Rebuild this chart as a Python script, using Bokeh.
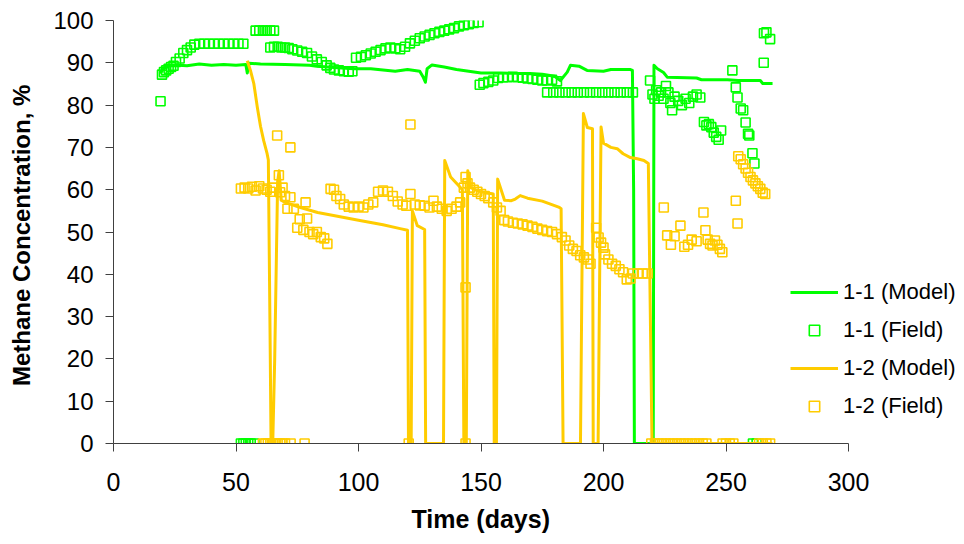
from bokeh.plotting import figure
from bokeh.models import FixedTicker, Legend, LegendItem, Range1d, Title
from bokeh.embed import file_html
from bokeh.resources import INLINE

# ---------------- data ----------------
# 1-1 (Model)
m11_day = [19, 20.5, 22, 25, 30, 35, 40, 45, 50, 54, 54.6, 55.3, 60, 70, 80, 83,
           90, 98, 105, 110, 115, 120, 125, 126.5, 127.3, 128, 130, 135, 140, 145,
           150, 158, 165, 170, 175, 180, 182.4, 185.2, 186.5, 190, 193.3, 200,
           203, 211, 211.8, 212.3, 212.6, 220.3, 220.6, 222, 224.5, 226, 230, 238,
           240, 250.6, 255, 264, 265, 269]
m11_val = [87.5, 88.6, 89.2, 89.5, 89.3, 89.7, 89.4, 89.6, 89.4, 89.6, 87.6, 89.9, 89.7, 89.6, 89.4, 89.2,
           88.9, 88.6, 88.6, 88.3, 88.0, 88.4, 88.0, 86.5, 85.4, 88.6, 89.5, 89.0, 88.4, 88.0,
           87.6, 87.6, 87.5, 87.5, 87.3, 86.8, 85.8, 87.8, 89.4, 89.2, 88.2, 88.0,
           88.4, 88.4, 88.2, 60, 0, 0, 89.4, 88.6, 87.7, 86.6, 86.5, 86.4,
           86.0, 86.0, 85.8, 85.8, 85.1, 85.1]

# 1-1 (Field)
f11_day = [19.2, 19.8, 20.6, 21.5, 22.5, 23.5, 24.5, 25.5, 27, 28.5, 30, 31.5, 33, 35, 37, 39, 41,
           43, 45, 47, 49, 51, 53,
           52, 53, 54, 55, 56, 57.5,
           58, 59.5, 61, 62.5, 64, 65.5,
           64, 65.5, 67, 68.5, 70, 71.5, 73, 75, 77, 79, 81, 83, 85, 87, 88.5, 90, 92, 94,
           96, 97.5, 99, 101, 103, 105, 107, 109, 111, 113, 115, 117, 119, 121, 123, 125,
           127, 129, 131, 133, 135, 137, 139, 141, 143, 145, 147, 149,
           149.5, 151, 153, 155, 157, 159, 161, 163, 165, 167, 169, 171, 173, 175, 177,
           179, 181,
           177, 179.5, 182, 184.5, 187, 189.5, 192, 194.5, 197, 199.5, 202, 204.5, 207,
           209.5, 212,
           219, 220, 220.8, 221.5, 222.5, 223.5, 224.5, 225.5, 226.5, 227.3, 228, 229,
           230.5, 232, 233.5, 235, 236.5, 238, 239.5, 241, 242, 243, 244, 245, 246, 247,
           248, 252.6, 254, 254.7, 256, 257, 258, 259, 259.5, 260.8, 261.6, 265.4,
           265.5, 266.5, 268,
           261, 262.5]
f11_val = [80.9, 87.2, 87.8, 88.2, 88.6, 89.0, 89.3, 90.2, 91.0, 92.3, 93.0, 93.6, 94.3, 94.5, 94.5, 94.5, 94.5,
           94.5, 94.5, 94.5, 94.5, 94.5, 94.5,
           0, 0, 0, 0, 0, 0,
           97.6, 97.6, 97.6, 97.6, 97.6, 97.6,
           93.6, 93.8, 93.8, 93.6, 93.6, 93.5, 93.2, 92.9, 92.6, 92.3, 91.5, 90.8, 90.2, 89.4, 88.8, 88.4, 88.2, 88.0,
           87.9, 88.0, 91.2, 91.4, 91.8, 92.2, 92.6, 93.0, 93.4, 93.6, 93.4, 93.2, 93.8, 94.6, 95.2, 95.8,
           96.2, 96.6, 97.0, 97.3, 97.6, 97.9, 98.2, 98.6, 98.9, 99.1, 99.4, 99.6,
           84.8, 85.2, 85.5, 85.8, 86.4, 86.6, 86.6, 86.7, 86.6, 86.5, 86.3, 86.2, 86.0, 85.8, 85.8,
           86.0, 85.6,
           83.0, 83.0, 83.0, 83.0, 83.0, 83.0, 83.0, 83.0, 83.0, 83.0, 83.0, 83.0, 83.0,
           83.0, 83.0,
           85.8, 82.5, 81.5, 83.5, 82.2, 83.0, 81.5, 84.5, 83.0, 80.5, 78.8, 82.0,
           81.0, 80.0, 81.5, 80.5, 82.0, 82.5, 81.8, 76.0, 75.2, 75.5, 74.8, 73.5, 72.5, 71.8,
           74.0, 88.2, 84.2, 81.8, 79.2, 78.8, 75.9, 73.2, 72.8, 68.6, 66.2, 90.0,
           97.0, 97.2, 95.6,
           0, 0]

# 1-2 (Model)
m12_day = [54.6, 56, 57.3, 58.7, 60, 61.3, 62.7, 63.2, 64.0, 64.3, 65.0, 65.8, 67.0, 67.6,
           68.5, 70, 76.3, 83.3, 89.8, 100, 110, 117, 120, 120.4, 121.5, 122, 124, 127,
           127.4, 134.7, 135.2, 137.6, 141.6, 142.4, 143, 144, 144.6, 145.7, 150, 155,
           155.4, 156.3, 156.8, 159.6, 162.4, 164, 166, 169, 175, 182, 182.7, 183.5,
           190.6, 191.8, 193.4, 195.5, 195.8, 196.8, 197.8, 199, 200, 203, 205.6, 208,
           211, 213.8, 216.5, 218.3, 219.8, 269]
m12_val = [90.5, 88, 85, 79.5, 75, 71.6, 68.5, 67, 20, 0, 0, 20, 62, 64.5,
           57.5, 57, 55.8, 54.6, 53.9, 52.8, 51.7, 50.8, 50.4, 0, 0, 55, 51.5, 50.6,
           0, 0, 66.9, 63, 60.5, 60, 0, 0, 64.5, 60.5, 59.5, 59,
           0, 0, 62.5, 57.5, 57.4, 57.8, 58.6, 58.0, 57.3, 55.8, 55.5, 0,
           0, 78, 74.7, 74.4, 0, 0, 0, 74.8, 71, 70, 69.7, 68.5,
           67.6, 67.3, 66.9, 66.2, 0, 0]

# 1-2 (Field)
f12_day = [52, 53.5, 55, 56.5, 58, 59.5, 61, 62.5, 64, 65,
           66.8, 67.5, 68, 69, 70, 71, 72.2, 72.2, 73.6, 75, 76, 77.5, 78.4, 79, 80, 81.5,
           83, 84.6, 86, 87.3,
           88.6, 90, 91, 92.5, 94, 96, 98, 100, 102, 104, 106, 108, 110, 112, 114, 116,
           118, 119.5, 121.2, 121.2, 123, 125, 127, 129, 130.6, 132, 134, 136, 138, 140,
           141.5, 143, 143.7, 143.7, 144.5, 145.5, 147, 148.5, 150, 151.5, 153, 155, 156.5,
           158, 159.5, 161, 163, 165, 167, 169, 171, 173, 175, 177, 179, 181, 183, 184.5,
           186, 187.5, 189, 190.5, 192, 193.5, 194.7, 197, 198, 199, 200, 200.6, 202,
           203.5, 205, 206.5, 208, 209.5, 211, 212, 214, 216, 218,
           224.6, 226, 227.5, 229, 231.4, 233, 234.5, 236, 238, 240.8, 241.6, 242.5, 243.5,
           244.5, 245.5, 246.5, 247.5, 248.5, 254, 254.7, 255, 256, 257, 258, 259, 260,
           261, 262, 263, 264, 265, 266,
           61, 62, 63, 64, 65, 66, 67, 68, 69, 70, 72.3, 78, 120.5, 143.7,
           219.5, 221, 222.5, 224, 225.5, 227, 228.5, 230, 231.5, 233, 234.5, 236, 237.5,
           239, 240.5, 242, 248.6, 250, 251.5, 253, 263.5, 265, 266.5, 268]
f12_val = [60.3, 60.5, 60.3, 60.7, 59.8, 60.8, 60.3, 60.0, 59.5, 60.5,
           72.8, 63.4, 59.4, 60.5, 58.5, 55.5, 58.2, 70.0, 55.5, 51.0, 53.0, 50.5, 57.0, 53.2, 50.0, 49.5,
           50.0, 48.8, 48.5, 47.2,
           60.2, 60.0, 58.5, 57.8, 56.5, 56.0, 55.8, 56.0, 55.8, 56.5, 57.0, 59.5, 59.8, 59.5, 58.5, 57.2,
           56.5, 56.2, 75.4, 59.0, 56.5, 56.3, 56.2, 55.8, 57.4, 56.0, 55.5, 55.0, 55.5, 56.0,
           57.0, 60.5, 63.0, 36.9, 61.5, 60.5, 60.0, 59.5, 59.0, 58.5, 58.0, 57.0, 55.8,
           55.0, 52.8, 52.5, 52.2, 52.0, 51.8, 51.5, 51.2, 50.8, 50.5, 50.2, 50.0, 49.5, 48.8, 48.0,
           46.8, 46.0, 45.5, 44.5, 44.0, 43.5, 42.5, 51.0, 48.7, 47.5, 46.3, 44.7, 43.5,
           42.5, 42.0, 41.2, 40.5, 38.8, 39.0, 40.2, 40.2, 40.2, 40.2,
           55.8, 49.2, 47.0, 49.0, 51.5, 46.5, 47.0, 48.2, 47.8, 54.6, 50.4, 48.2, 47.2,
           46.8, 48.0, 47.0, 46.0, 45.2, 57.4, 52.0, 67.9, 67.2, 66.0, 65.0, 64.0, 63.0,
           62.2, 61.5, 60.8, 60.2, 59.3, 59.0,
           0, 0, 0, 0, 0, 0, 0, 0, 0, 0, 0, 0, 0, 0,
           0, 0, 0, 0, 0, 0, 0, 0, 0, 0, 0, 0, 0,
           0, 0, 0, 0, 0, 0, 0, 0, 0, 0, 0]

x_ticks = [0, 50, 100, 150, 200, 250, 300]
y_ticks = [0, 10, 20, 30, 40, 50, 60, 70, 80, 90, 100]

GREEN = "#00FF00"
YELLOW = "#FFCC00"
FONT = "Liberation Sans"

# ---------------- figure ----------------
W, H = 962, 542
LEFT, TOP = 113, 20
FRAME_H = 423
AXIS_PX = 735            # pixels spanned by the 0..300 axis
x_end = (W - LEFT) / AXIS_PX * 300   # frame extends past 300 so the legend fits

p = figure(width=W, height=H, output_backend="svg", toolbar_location=None,
           x_range=Range1d(0, x_end), y_range=Range1d(0, 100),
           min_border_left=LEFT, min_border_right=0, min_border_top=TOP,
           min_border_bottom=H - TOP - FRAME_H)
p.outline_line_color = None
p.grid.visible = False
p.background_fill_color = "white"
p.border_fill_color = "white"

r1 = p.line(m11_day, m11_val, line_color=GREEN, line_width=3, line_join="round")
r2 = p.scatter(f11_day, f11_val, marker="square", size=9, fill_color=None,
               line_color=GREEN, line_width=1.6)
r3 = p.line(m12_day, m12_val, line_color=YELLOW, line_width=3, line_join="round")
r4 = p.scatter(f12_day, f12_val, marker="square", size=9, fill_color=None,
               line_color=YELLOW, line_width=1.6)

for ax in (p.xaxis[0], p.yaxis[0]):
    ax.axis_line_color = "#404040"
    ax.axis_line_width = 1
    ax.major_tick_line_color = "#404040"
    ax.major_tick_out = 8
    ax.major_tick_in = 0
    ax.minor_tick_line_color = None
    ax.major_label_text_font = FONT
    ax.major_label_text_color = "black"
    ax.axis_label_text_font = FONT
    ax.axis_label_text_font_style = "bold"
    ax.axis_label_text_color = "black"

p.xaxis.bounds = (0, 300)
p.xaxis.ticker = FixedTicker(ticks=x_ticks)
p.yaxis.ticker = FixedTicker(ticks=y_ticks)
p.xaxis.major_label_text_font_size = "25px"
p.yaxis.major_label_text_font_size = "24px"
p.xaxis.major_label_standoff = 21
p.yaxis.major_label_standoff = 12
p.yaxis.axis_label = "Methane Concentration,  %"
p.yaxis.axis_label_text_font_size = "24px"
p.yaxis.axis_label_standoff = 15

# x-axis title centred under the 0..300 axis (the frame itself is wider)
xtitle = Title(text="Time (days)", align="left", offset=298, standoff=19,
               text_font=FONT, text_font_size="25px", text_font_style="bold",
               text_color="black")
p.add_layout(xtitle, "below")

legend = Legend(items=[
    LegendItem(label="1-1 (Model)", renderers=[r1]),
    LegendItem(label="1-1 (Field)", renderers=[r2]),
    LegendItem(label="1-2 (Model)", renderers=[r3]),
    LegendItem(label="1-2 (Field)", renderers=[r4]),
], location=(677, 24))
legend.label_text_font = FONT
legend.label_text_font_size = "22px"
legend.label_text_color = "black"
legend.glyph_width = 48
legend.glyph_height = 26
legend.label_height = 26
legend.spacing = 12
legend.label_standoff = 5
legend.padding = 0
legend.margin = 0
legend.border_line_alpha = 0
legend.background_fill_alpha = 0
p.add_layout(legend, "center")

open("out.html", "w").write(file_html(p, INLINE))
